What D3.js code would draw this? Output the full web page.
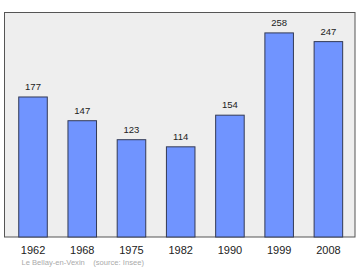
<!DOCTYPE html>
<html><head><meta charset="utf-8">
<script src="https://cdn.jsdelivr.net/npm/d3@7"></script>
<style>html,body{margin:0;padding:0;background:#fff;}svg{display:block;}</style>
</head><body>
<script>
const years = ["1962","1968","1975","1982","1990","1999","2008"];
const population = [177,147,123,114,154,258,247];
const commune = "Le Bellay-en-Vexin";
const source = "(source: Insee)";

const W = 360, H = 270;
const FONT = "Liberation Sans, Arial, sans-serif";
const svg = d3.select("body").append("svg").attr("width", W).attr("height", H);
const frame = {x0: 4.5, y0: 12.5, x1: 355, y1: 237};

svg.append("rect").attr("x", frame.x0).attr("y", frame.y0)
  .attr("width", frame.x1 - frame.x0).attr("height", frame.y1 - frame.y0)
  .attr("fill", "#eeeeee").attr("stroke", "#555").attr("stroke-width", 1);

const x = d3.scaleBand().domain(years).range([8.4, 353]).paddingInner(0.42).paddingOuter(0.21);
const y = d3.scaleLinear().domain([0, 258 * 1.1]).range([frame.y1, frame.y0]);

svg.selectAll("rect.bar").data(population).join("rect").attr("class", "bar")
  .attr("x", (d, i) => x(years[i]))
  .attr("y", d => y(d))
  .attr("width", x.bandwidth())
  .attr("height", d => frame.y1 - y(d))
  .attr("fill", "#7094ff").attr("stroke", "#333a55").attr("stroke-width", 1);

svg.selectAll("text.val").data(population).join("text").attr("class", "val")
  .attr("x", (d, i) => x(years[i]) + x.bandwidth() / 2)
  .attr("y", d => y(d) - 6.7)
  .attr("text-anchor", "middle")
  .attr("font-family", FONT).attr("font-size", 9.5)
  .attr("fill", "#222").text(d => d);

const ax = svg.append("g").attr("transform", `translate(0,${frame.y1})`)
  .call(d3.axisBottom(x).tickSize(0).tickPadding(9));
ax.select(".domain").remove();
ax.selectAll("text").attr("font-family", FONT).attr("font-size", 11).attr("fill", "#222");

svg.append("text").attr("x", 21.5).attr("y", 264.7)
  .attr("font-family", FONT).attr("font-size", 7.6)
  .attr("fill", "#aaa").attr("xml:space", "preserve")
  .text(commune + "    " + source);
</script>
</body></html>
